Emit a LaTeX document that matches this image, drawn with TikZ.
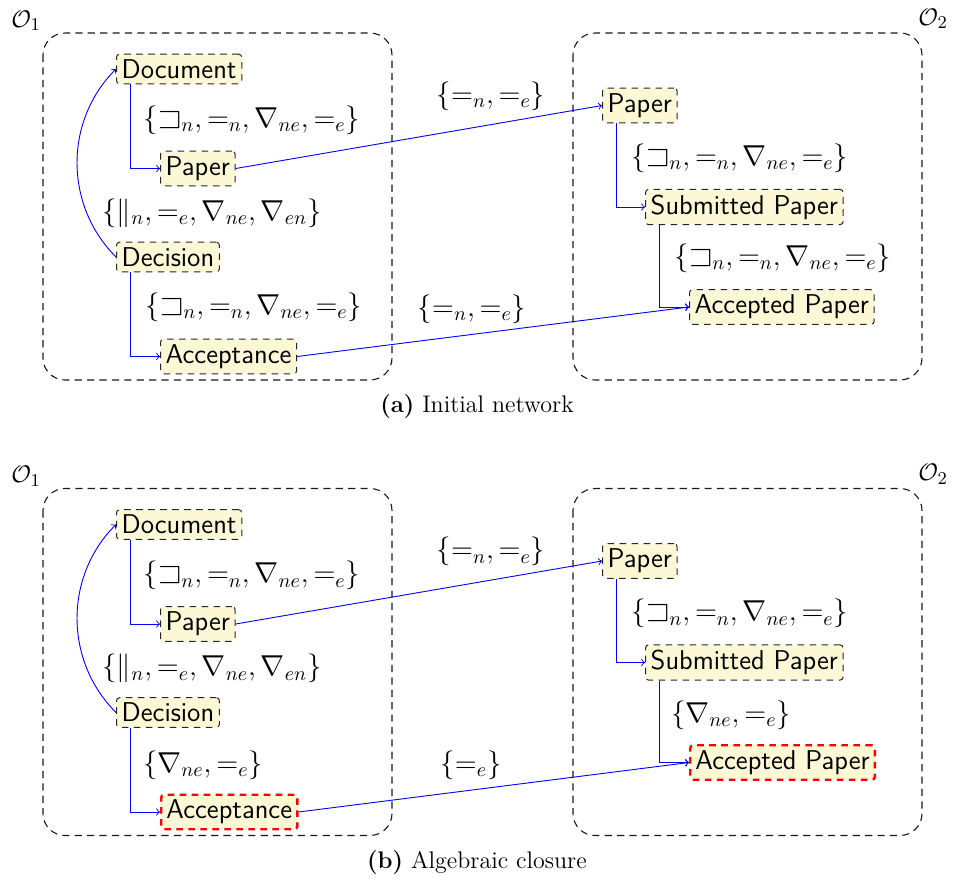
\documentclass[tikz,border=0pt]{standalone}
\usepackage{amssymb}
\DeclareFontFamily{U}{msa}{}
\DeclareFontShape{U}{msa}{m}{n}{<->msam10}{}
\definecolor{nodefill}{RGB}{252,248,214}
\tikzset{
  concept/.style={draw=black!85, line width=0.5pt, dash pattern=on 3.3pt off 2.7pt, fill=nodefill, rounded corners=1.5pt, inner sep=2.6pt,
    font=\sffamily\fontsize{13.6}{16}\selectfont, anchor=west},
  inferred/.style={concept, draw=red, line width=1.2pt},
  rel/.style={draw=blue, line width=0.45pt, ->},
  lbl/.style={font=\fontsize{14.9}{18}\selectfont, inner sep=0pt},
  onto/.style={draw=black!90, line width=0.55pt, dash pattern=on 3.6pt off 2.6pt, rounded corners=11pt},
  ontolabel/.style={font=\fontsize{13}{15}\selectfont, inner sep=0pt, anchor=base west},
  capt/.style={font=\fontsize{12}{14}\selectfont, inner sep=0pt}
}
\begin{document}
\begin{tikzpicture}[x=0.5pt, y=-0.5pt]
\useasboundingbox (0,0) rectangle (954,880);
% ---------------- panel (a)
\begin{scope}
\node[ontolabel] (aO1) at (11,27) {$\mathcal{O}_1$};
\node[ontolabel] (aO2) at (918,25) {$\mathcal{O}_2$};
\draw[onto] (43,33) rectangle (392,380);
\draw[onto] (573,33) rectangle (922,380);
\node[concept] (aDoc) at (116,69) {Document};
\node[concept] (aPapL) at (160,168.5) {Paper};
\node[concept] (aDec) at (116,257) {Decision};
\node[concept] (aAcc) at (160,356.5) {Acceptance};
\node[concept] (aPapR) at (602,105.5) {Paper};
\node[concept] (aSub) at (645,207) {Submitted Paper};
\node[concept] (aAccP) at (689,307) {Accepted Paper};
\draw[rel] ([xshift=7pt]aDoc.south west) |- (aPapL.west);
\draw[rel] ([xshift=7pt]aDec.south west) |- (aAcc.west);
\draw[rel] ([xshift=7pt]aPapR.south west) |- (aSub.west);
\draw[rel] ([xshift=7pt]aSub.south west) |- (aAccP.west);
\draw[rel] (aDec.west) to[bend left=45] (aDoc.west);
\draw[rel] (aPapL.east) -- (aPapR.west);
\draw[rel] (aAcc.east) -- (aAccP.west);
\node[lbl] (aL1) at (252,120) {$\{\sqsupset_n, =_n, \nabla_{ne}, =_e\}$};
\node[lbl] (aL2) at (212,213) {$\{\|_n, =_e, \nabla_{ne}, \nabla_{en}\}$};
\node[lbl] (aL3) at (254,307) {$\{\sqsupset_n, =_n, \nabla_{ne}, =_e\}$};
\node[lbl] (aR1) at (740,158) {$\{\sqsupset_n, =_n, \nabla_{ne}, =_e\}$};
\node[lbl] (aR2) at (783,258) {$\{\sqsupset_n, =_n, \nabla_{ne}, =_e\}$};
\node[lbl] (aX1) at (491,96) {$\{=_n, =_e\}$};
\node[lbl] (aX2) at (472,309) {$\{=_n, =_e\}$};
\node[capt] (aCap) at (477,407) {\textbf{(a)} Initial network};
\end{scope}
% ---------------- panel (b)
\begin{scope}[shift={(0,455.5)}]
\node[ontolabel] (bO1) at (11,27) {$\mathcal{O}_1$};
\node[ontolabel] (bO2) at (918,25) {$\mathcal{O}_2$};
\draw[onto] (43,33) rectangle (392,380);
\draw[onto] (573,33) rectangle (922,380);
\node[concept] (bDoc) at (116,69) {Document};
\node[concept] (bPapL) at (160,168.5) {Paper};
\node[concept] (bDec) at (116,257) {Decision};
\node[inferred] (bAcc) at (160,356.5) {Acceptance};
\node[concept] (bPapR) at (602,105.5) {Paper};
\node[concept] (bSub) at (645,207) {Submitted Paper};
\node[inferred] (bAccP) at (689,307) {Accepted Paper};
\draw[rel] ([xshift=7pt]bDoc.south west) |- (bPapL.west);
\draw[rel] ([xshift=7pt]bDec.south west) |- (bAcc.west);
\draw[rel] ([xshift=7pt]bPapR.south west) |- (bSub.west);
\draw[rel] ([xshift=7pt]bSub.south west) |- (bAccP.west);
\draw[rel] (bDec.west) to[bend left=45] (bDoc.west);
\draw[rel] (bPapL.east) -- (bPapR.west);
\draw[rel] (bAcc.east) -- (bAccP.west);
\node[lbl] (bL1) at (252,120) {$\{\sqsupset_n, =_n, \nabla_{ne}, =_e\}$};
\node[lbl] (bL2) at (212,213) {$\{\|_n, =_e, \nabla_{ne}, \nabla_{en}\}$};
\node[lbl] (bL3) at (203,309.5) {$\{\nabla_{ne}, =_e\}$};
\node[lbl] (bR1) at (740,158) {$\{\sqsupset_n, =_n, \nabla_{ne}, =_e\}$};
\node[lbl] (bR2) at (731,259.5) {$\{\nabla_{ne}, =_e\}$};
\node[lbl] (bX1) at (491,96) {$\{=_n, =_e\}$};
\node[lbl] (bX2) at (471,309.5) {$\{=_e\}$};
\node[capt] (bCap) at (477,407) {\textbf{(b)} Algebraic closure};
\end{scope}
\end{tikzpicture}
\end{document}
